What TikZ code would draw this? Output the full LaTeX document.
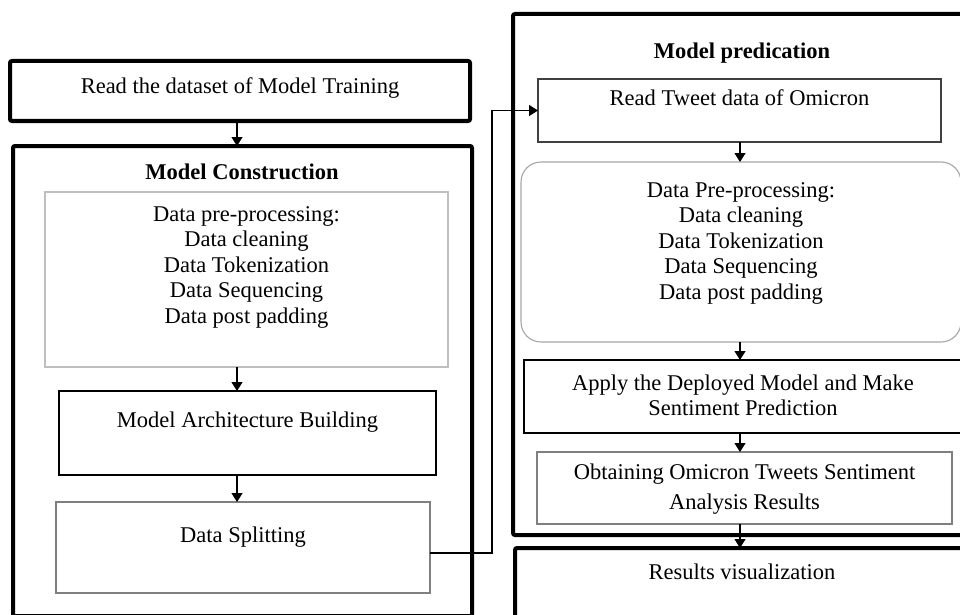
\documentclass[tikz,border=0pt]{standalone}
\usepackage{fontspec}
\setmainfont{Liberation Serif}
\usepackage{tikz}
\usetikzlibrary{positioning, arrows.meta}
\definecolor{edgefaint}{HTML}{BFBFBF}
\definecolor{edgesoft}{HTML}{A6A6A6}
\definecolor{edgemid}{HTML}{7F7F7F}
\definecolor{edgedark}{HTML}{404040}
\definecolor{ink}{HTML}{000000}

\begin{document}
\begin{tikzpicture}[x=1pt, y=-1pt,
      txt/.style={font=\fontsize{22.5}{25.5}\selectfont, align=center},
      frame/.style={rectangle, draw=ink, line width=4pt, rounded corners=2pt,
        anchor=north west, outer sep=0pt, inner sep=0pt, txt},
      inbox/.style={rectangle, draw=#1, line width=1.1pt,
        anchor=north west, outer sep=0pt, inner sep=0pt, txt},
      ttl/.style={font=\fontsize{22.5}{25.5}\selectfont\bfseries},
      arrow/.style={-{Triangle[length=9pt, width=11pt]}, line width=1.2pt, color=ink}]

    \useasboundingbox (0,0) rectangle (960,615);
    \clip (0,0) rectangle (960,615);

    \coordinate (lcol) at (237,0);
    \coordinate (rcol) at (740,0);

    \node[frame, minimum width=460pt, text height=33pt, text depth=27pt] (read) at (10,61)
      {Read the dataset of Model Training};

    \node[frame, minimum width=459pt, minimum height=470pt] (mc) at (13,146) {};
    \node[ttl] (mctitle) at (242,172) {Model Construction};
    \node[inbox=edgefaint, minimum width=403pt, text height=131pt, text depth=44pt] (pre1) at (45,192)
      {Data pre-processing:\\Data cleaning\\Data Tokenization\\Data Sequencing\\Data post padding};
    \node[inbox=ink, minimum width=377pt, text height=36pt, text depth=48pt] (arch) at (59,391)
      {Model Architecture Building};
    \node[inbox=edgemid, minimum width=374pt, text height=40pt, text depth=51pt] (split) at (56,502)
      {Data Splitting};

    \node[frame, minimum width=458pt, minimum height=521pt] (mp) at (513,14) {};
    \node[ttl] (mptitle) at (742,53) {Model predication};
    \node[inbox=edgedark, minimum width=403pt, text height=27pt, text depth=36pt] (tweet) at (538,79)
      {Read Tweet data of Omicron};
    \node[inbox=edgesoft, rounded corners=20pt, minimum width=440pt, text height=137pt, text depth=43pt] (pre2) at (521,162)
      {Data Pre-processing:\\Data cleaning\\Data Tokenization\\Data Sequencing\\Data post padding};
    \node[inbox=ink, minimum width=438pt, text height=55.5pt, text depth=17.5pt] (apply) at (524,360)
      {Apply the Deployed Model and Make\\Sentiment Prediction};
    \node[inbox=edgemid, minimum width=415pt, text height=57pt, text depth=15pt] (obtain) at (537,452)
      {Obtaining Omicron Tweets Sentiment\\[4.5pt]Analysis Results};

    \node[frame, minimum width=454pt, text height=31pt, text depth=49pt] (res) at (515,548)
      {Results visualization};

    \draw[arrow] (read.south -| lcol) -- (mc.north -| lcol);
    \draw[arrow] (pre1.south -| lcol) -- (arch.north -| lcol);
    \draw[arrow] (arch.south -| lcol) -- (split.north -| lcol);
    \draw[arrow] ([yshift=-5.5pt]split.east) -- ++(62,0) |- (tweet.west);
    \draw[arrow] (tweet.south -| rcol) -- (pre2.north -| rcol);
    \draw[arrow] (pre2.south -| rcol) -- (apply.north -| rcol);
    \draw[arrow] (apply.south -| rcol) -- (obtain.north -| rcol);
    \draw[arrow] (obtain.south -| rcol) -- (res.north -| rcol);
  \end{tikzpicture}
\end{document}
